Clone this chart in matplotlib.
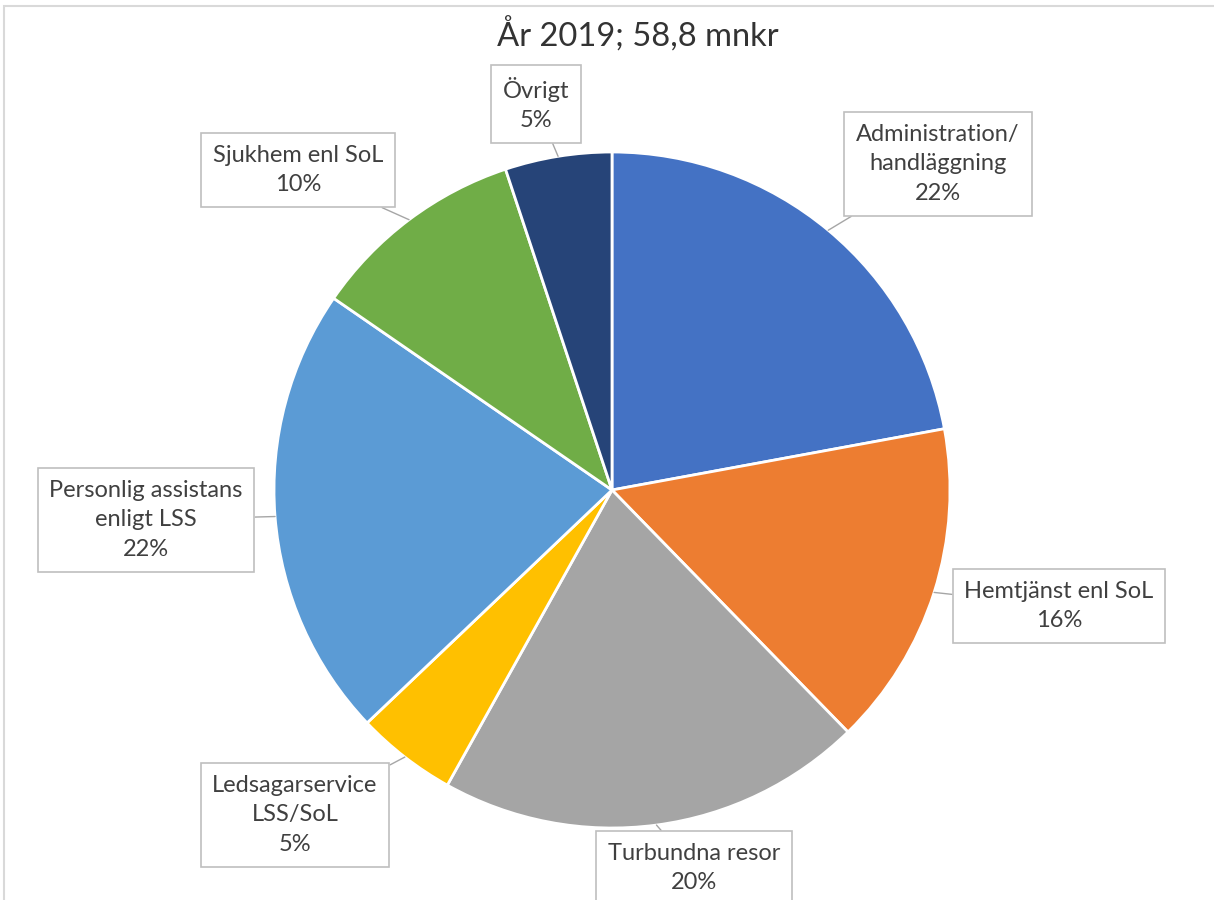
import matplotlib.pyplot as plt
from matplotlib.patches import Rectangle
import numpy as np

plt.rcParams['font.family'] = ['Lato', 'DejaVu Sans']

# Andelar i procent, summa 58,8 mnkr
categories = ['Administration/\nhandläggning', 'Hemtjänst enl SoL', 'Turbundna resor',
              'Ledsagarservice\nLSS/SoL', 'Personlig assistans\nenligt LSS',
              'Sjukhem enl SoL', 'Övrigt']
shares = [22.1, 15.6, 20.4, 4.8, 21.7, 10.3, 5.1]
colors = ['#4472C4', '#ED7D31', '#A5A5A5', '#FFC000', '#5B9BD5', '#70AD47', '#264478']

# label box centres in pixels (x, y from top)
label_pos = [(938, 164), (1059, 606), (694, 868), (295, 815), (146, 520), (298, 170), (536, 104)]

W, H = 1214, 900
fig = plt.figure(figsize=(W / 100, H / 100), dpi=100)

# chart border
fig.patches.append(Rectangle((4 / W, -0.01), 1.0, 1 - 6 / H + 0.01, transform=fig.transFigure,
                             fill=False, edgecolor='#d9d9d9', lw=1.5))

cx, cy, r = 612, 490, 338
ax = fig.add_axes([(cx - r) / W, (H - cy - r) / H, 2 * r / W, 2 * r / H])
wedges, _ = ax.pie(shares, colors=colors, startangle=90, counterclock=False, radius=1,
                   wedgeprops=dict(edgecolor='white', linewidth=2))
ax.set_xlim(-1, 1)
ax.set_ylim(-1, 1)
ax.set_aspect('equal')
ax.axis('off')

for w, cat, val, (px, py) in zip(wedges, categories, shares, label_pos):
    ang = np.deg2rad((w.theta1 + w.theta2) / 2)
    xy = (np.cos(ang), np.sin(ang))
    ax.annotate(f'{cat}\n{val:.0f}%', xy=xy, xycoords='data',
                xytext=(px / W, 1 - py / H), textcoords='figure fraction',
                ha='center', va='center', fontsize=17, color='#404040', linespacing=1.5,
                bbox=dict(boxstyle='square,pad=0.5', fc='white', ec='#bfbfbf', lw=1.2),
                arrowprops=dict(arrowstyle='-', color='#a6a6a6', lw=1, shrinkA=0, shrinkB=0),
                annotation_clip=False)

fig.text(638 / W, 1 - 35 / H, 'År 2019; 58,8 mnkr', ha='center', va='center',
         fontsize=23.5, color='#333333')

plt.savefig('out.png', dpi=100)
